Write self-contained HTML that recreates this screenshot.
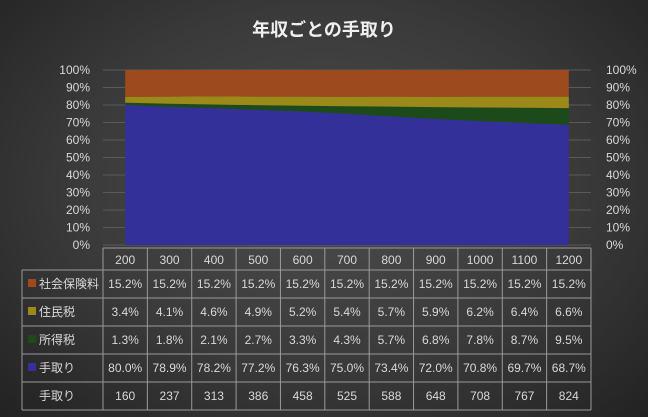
<!DOCTYPE html>
<html><head><meta charset="utf-8"><style>
body{margin:0;width:648px;height:417px;overflow:hidden;background:radial-gradient(ellipse at 50% 45%,#4d4d4d 0%,#3a3a3a 55%,#222 100%);font-family:"Liberation Sans","Noto Sans CJK JP",sans-serif;}
svg{position:absolute;left:0;top:0}
text{fill:#d9d9d9;font-size:12px}
</style></head><body>
<svg id="c" width="648" height="417">
<text x="324" y="36" text-anchor="middle" style="font-size:18px;font-weight:bold;fill:#f0f0f0">年収ごとの手取り</text>
</svg>
<script>
const categories=[200,300,400,500,600,700,800,900,1000,1100,1200];
const shakai=[15.2,15.2,15.2,15.2,15.2,15.2,15.2,15.2,15.2,15.2,15.2];
const jumin=[3.4,4.1,4.6,4.9,5.2,5.4,5.7,5.9,6.2,6.4,6.6];
const shotoku=[1.3,1.8,2.1,2.7,3.3,4.3,5.7,6.8,7.8,8.7,9.5];
const tedori=[80.0,78.9,78.2,77.2,76.3,75.0,73.4,72.0,70.8,69.7,68.7];
const tedoriAmt=[160,237,313,386,458,525,588,648,708,767,824];
const yTicks=[0,10,20,30,40,50,60,70,80,90,100];
const svg=document.getElementById('c');const NS='http://www.w3.org/2000/svg';
function mk(t,a,p){const e=document.createElementNS(NS,t);for(const k in a)e.setAttribute(k,a[k]);(p||svg).appendChild(e);return e;}
const L=103,R=591,cw=(R-L)/categories.length,plotTop=70,bot=245;
const x=i=>L+cw*(i+0.5);const y=v=>bot-(bot-plotTop)*v/100;
yTicks.forEach(t=>{
 const g=mk('line',{x1:L,x2:R,y1:y(t),y2:y(t),stroke:'#5a5a5a','stroke-width':1});
 
 
 const a=mk('text',{x:90,y:y(t)+4,'text-anchor':'end'});a.textContent=t+'%';
 
 
 const b=mk('text',{x:606,y:y(t)+4});b.textContent=t+'%';
 
 
});
const series=[
 {name:'手取り',v:tedori,c:'#33309a'},
 {name:'所得税',v:shotoku,c:'#1d4a1a'},
 {name:'住民税',v:jumin,c:'#9b8a1a'},
 {name:'社会保険料',v:shakai,c:'#9c4a1e'}];
let base=categories.map(()=>0);
series.forEach(s=>{
 const topv=base.map((b,i)=>b+s.v[i]);
 let d='M'+categories.map((c,i)=>x(i)+','+y(Math.min(topv[i],100))).join(' L');
 for(let i=categories.length-1;i>=0;i--)d+=' L'+x(i)+','+y(Math.min(base[i],100));
 const p=mk('path',{d:d+'Z',fill:s.c});
 
 
 base=topv;
});
const rowsY=[248,270,298,326,354,382,410];
const tl=22,st='#9a9a9a';
mk('line',{x1:L,x2:R,y1:rowsY[0],y2:rowsY[0],stroke:st});
for(let r=1;r<rowsY.length;r++)mk('line',{x1:tl,x2:R,y1:rowsY[r],y2:rowsY[r],stroke:st});
mk('line',{x1:tl,x2:tl,y1:rowsY[1],y2:rowsY[6],stroke:st});
for(let i=0;i<=categories.length;i++)mk('line',{x1:L+cw*i,x2:L+cw*i,y1:rowsY[0],y2:rowsY[6],stroke:st});
categories.forEach((c,i)=>{const t=mk('text',{x:x(i),y:264,'text-anchor':'middle'});t.textContent=c;
 
 });
const tableRows=[{n:'社会保険料',v:shakai,c:'#9c4a1e',p:1},{n:'住民税',v:jumin,c:'#9b8a1a',p:1},{n:'所得税',v:shotoku,c:'#1d4a1a',p:1},{n:'手取り',v:tedori,c:'#33309a',p:1},{n:'手取り',v:tedoriAmt,c:null,p:0}];
tableRows.forEach((r,k)=>{
 const cy=(rowsY[k+1]+rowsY[k+2])/2+4;
 if(r.c){const s=mk('rect',{x:28,y:cy-9,width:8,height:8,fill:r.c});
  
  }
 const lb=mk('text',{x:39,y:cy});lb.textContent=r.n;
 
 
 r.v.forEach((v,i)=>{const t=mk('text',{x:x(i),y:cy,'text-anchor':'middle'});t.textContent=r.p?v.toFixed(1)+'%':v;
  
  });
});
</script>
</body></html>
